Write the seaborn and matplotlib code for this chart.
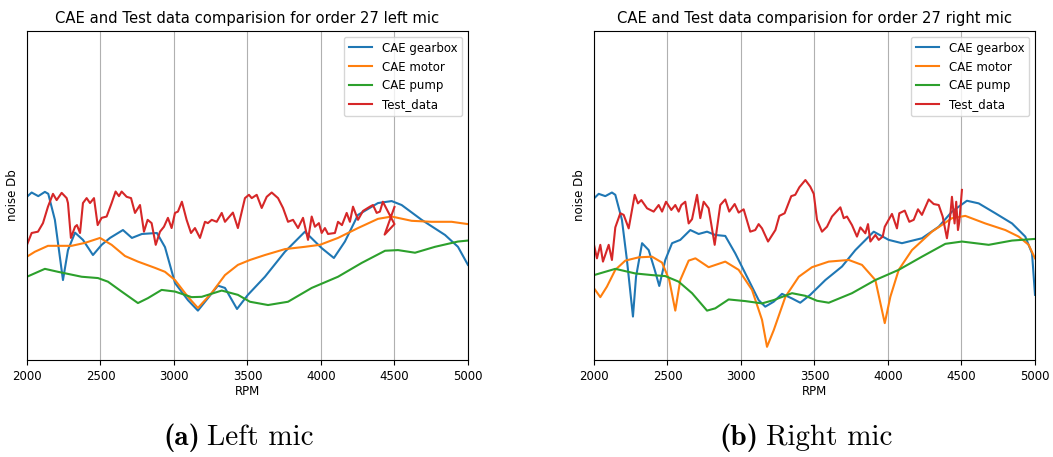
import pandas as pd
import numpy as np
import matplotlib.pyplot as plt
import seaborn as sns

# Order 27 noise levels (RPM, noise in dB, arbitrary offset)

# ---- left mic ----
left_gearbox_rpm = [2000, 2032, 2077, 2122, 2145, 2190, 2245, 2279, 2327, 2381, 2449, 2508, 2565, 2653,
                    2714, 2782, 2884, 2939, 3007, 3095, 3163, 3231, 3299, 3347, 3429, 3503, 3619, 3755,
                    3891, 4005, 4088, 4163, 4252, 4388, 4481, 4549, 4685, 4844, 4932, 5000]
left_gearbox_db = [49.6, 50.9, 49.8, 51.1, 50.5, 42.6, 24.3, 33.4, 38.7, 36.5, 31.9, 35.0, 37.1, 39.5,
                   37.1, 38.3, 38.6, 34.3, 23.4, 18.2, 15.0, 18.8, 22.6, 21.9, 15.5, 19.8, 25.3, 32.9,
                   39.0, 34.0, 31.0, 36.0, 44.1, 47.7, 48.3, 47.1, 42.6, 38.0, 34.4, 28.9]

left_motor_rpm = [2000, 2054, 2143, 2304, 2395, 2497, 2576, 2667, 2755, 2871, 2939, 3007, 3095, 3163,
                  3257, 3347, 3435, 3517, 3619, 3755, 3891, 3993, 4116, 4252, 4388, 4481, 4617, 4753,
                  4889, 5000]
left_motor_db = [31.4, 32.9, 34.7, 34.7, 35.6, 37.1, 35.0, 31.6, 29.9, 28.0, 26.8, 24.3, 19.2, 15.8,
                 20.4, 25.8, 28.9, 30.4, 31.9, 33.7, 34.4, 35.0, 37.1, 40.1, 42.9, 43.6, 42.3, 42.0,
                 42.0, 41.3]

left_pump_rpm = [2000, 2122, 2211, 2372, 2483, 2551, 2644, 2755, 2823, 2916, 3007, 3120, 3189, 3325,
                 3435, 3517, 3640, 3776, 3937, 4116, 4277, 4436, 4524, 4640, 4776, 4932, 5000]
left_pump_db = [25.3, 27.7, 26.8, 25.3, 24.9, 23.8, 20.8, 17.3, 18.8, 21.3, 20.8, 19.1, 19.2, 21.1,
                19.8, 17.7, 16.7, 17.7, 21.9, 25.3, 29.5, 33.2, 33.4, 32.6, 34.4, 36.0, 36.3]

left_test_rpm = [2000, 2032, 2075, 2109, 2143, 2177, 2202, 2236, 2270, 2279, 2299, 2327, 2340, 2361,
                 2381, 2406, 2429, 2456, 2481, 2508, 2542, 2576, 2603, 2626, 2644, 2678, 2708, 2735,
                 2769, 2796, 2821, 2848, 2876, 2905, 2932, 2959, 2984, 3007, 3027, 3054, 3086, 3116,
                 3143, 3177, 3211, 3231, 3257, 3291, 3325, 3347, 3401, 3435, 3483, 3510, 3529, 3563,
                 3597, 3631, 3665, 3708, 3742, 3776, 3810, 3844, 3878, 3912, 3937, 3959, 3986, 4005,
                 4027, 4048, 4095, 4116, 4143, 4175, 4197, 4218, 4252, 4286, 4333, 4354, 4379, 4401,
                 4421, 4500, 4433, 4500]
left_test_db = [35.0, 38.6, 39.0, 41.6, 46.6, 50.5, 48.6, 50.8, 49.2, 47.7, 37.1, 40.5, 41.0, 38.6,
                47.7, 49.2, 47.7, 49.2, 41.0, 43.2, 43.6, 47.7, 51.2, 49.8, 51.2, 49.6, 49.2, 44.7,
                47.1, 39.0, 42.6, 41.6, 35.0, 39.0, 40.5, 43.2, 40.1, 44.7, 45.1, 48.1, 42.6, 38.6,
                40.1, 37.1, 42.0, 41.6, 42.6, 42.0, 44.7, 42.0, 44.8, 40.1, 49.2, 50.2, 49.2, 50.2,
                46.2, 49.6, 50.9, 49.2, 46.2, 42.0, 42.6, 40.1, 43.2, 36.5, 43.6, 40.5, 41.6, 38.6,
                40.1, 38.3, 38.6, 42.0, 41.0, 44.7, 42.0, 46.6, 42.6, 45.3, 46.6, 47.1, 44.7, 45.1,
                48.1, 41.3, 38.1, 46.5]

# ---- right mic ----
right_gearbox_rpm = [2000, 2032, 2077, 2122, 2145, 2190, 2224, 2265, 2286, 2327, 2372, 2413, 2444, 2485,
                     2531, 2587, 2655, 2712, 2769, 2825, 2893, 2961, 3052, 3120, 3165, 3222, 3279, 3347,
                     3403, 3471, 3574, 3687, 3778, 3903, 4005, 4095, 4231, 4345, 4435, 4537, 4617, 4730,
                     4844, 4934, 4980, 5000]
right_gearbox_db = [49.1, 50.5, 49.8, 50.9, 50.2, 42.6, 30.4, 13.2, 25.3, 35.5, 33.4, 27.4, 22.5, 30.4,
                    35.5, 36.5, 39.5, 38.3, 39.0, 38.0, 37.7, 32.4, 24.3, 18.2, 16.2, 17.7, 20.1, 18.7,
                    17.4, 19.8, 24.3, 28.4, 33.4, 39.0, 36.5, 35.5, 37.0, 40.5, 45.1, 48.4, 47.6, 44.6,
                    41.5, 37.5, 32.4, 19.8]

right_motor_rpm = [2000, 2043, 2088, 2145, 2213, 2304, 2395, 2463, 2512, 2553, 2587, 2644, 2690, 2780,
                   2893, 2984, 3075, 3143, 3177, 3223, 3302, 3393, 3483, 3597, 3733, 3823, 3914, 3978,
                   4016, 4073, 4163, 4299, 4435, 4526, 4662, 4798, 4889, 4957, 5000]
right_motor_db = [21.8, 19.1, 22.3, 27.4, 30.2, 31.2, 31.4, 29.6, 24.3, 15.0, 24.3, 30.2, 30.9, 28.2,
                  29.9, 27.4, 21.3, 12.2, 4.0, 9.1, 19.2, 25.3, 28.2, 29.9, 30.4, 28.9, 24.3, 11.2,
                  19.2, 27.4, 33.4, 39.0, 43.1, 43.8, 41.5, 39.5, 37.5, 35.0, 30.9]

right_pump_rpm = [2000, 2145, 2281, 2395, 2485, 2576, 2667, 2769, 2825, 2916, 3029, 3143, 3222, 3347,
                  3438, 3517, 3597, 3755, 3914, 4073, 4231, 4390, 4503, 4685, 4844, 5000]
right_pump_db = [25.8, 27.7, 26.3, 25.8, 25.5, 23.8, 20.3, 15.0, 15.7, 18.4, 17.9, 17.2, 18.2, 20.3,
                 19.5, 18.0, 17.4, 20.3, 24.3, 27.4, 31.4, 35.3, 36.0, 35.0, 36.3, 36.8]

right_test_rpm = [2000, 2020, 2043, 2061, 2100, 2122, 2145, 2179, 2202, 2236, 2277, 2299, 2322, 2361,
                  2406, 2440, 2463, 2490, 2526, 2553, 2576, 2594, 2621, 2644, 2667, 2701, 2723, 2746,
                  2780, 2821, 2859, 2893, 2920, 2957, 2984, 3018, 3063, 3097, 3120, 3143, 3184, 3234,
                  3261, 3297, 3342, 3369, 3397, 3438, 3471, 3495, 3517, 3551, 3585, 3619, 3676, 3699,
                  3721, 3755, 3789, 3812, 3846, 3864, 3880, 3914, 3937, 3964, 3978, 4027, 4061, 4077,
                  4114, 4145, 4175, 4204, 4231, 4277, 4311, 4345, 4372, 4401, 4424, 4435, 4453, 4464,
                  4476, 4485, 4503]
right_test_db = [35.0, 30.9, 35.0, 29.9, 35.0, 30.4, 40.3, 44.6, 44.1, 40.0, 50.2, 47.6, 48.6, 46.1,
                 45.1, 47.1, 45.1, 48.1, 45.6, 47.1, 45.1, 47.1, 48.1, 41.5, 42.8, 50.2, 43.1, 48.1,
                 46.1, 35.0, 47.1, 48.8, 45.1, 47.4, 44.8, 45.8, 39.0, 39.5, 41.3, 40.0, 36.0, 39.5,
                 43.8, 44.6, 49.8, 50.2, 52.5, 54.7, 52.7, 50.5, 42.6, 39.0, 40.5, 43.6, 46.4, 43.1,
                 43.6, 41.0, 37.5, 40.3, 38.5, 41.3, 36.0, 38.0, 36.5, 37.5, 40.5, 44.4, 40.0, 44.6,
                 45.4, 42.0, 42.6, 45.8, 44.1, 48.8, 47.4, 47.1, 43.6, 37.0, 44.1, 49.6, 41.5, 48.1,
                 39.5, 42.0, 51.7]

series_labels = ["CAE gearbox", "CAE motor", "CAE pump", "Test_data"]
colors = sns.color_palette("tab10", 4)

panels = [
    ("left", [(left_gearbox_rpm, left_gearbox_db), (left_motor_rpm, left_motor_db),
              (left_pump_rpm, left_pump_db), (left_test_rpm, left_test_db)]),
    ("right", [(right_gearbox_rpm, right_gearbox_db), (right_motor_rpm, right_motor_db),
               (right_pump_rpm, right_pump_db), (right_test_rpm, right_test_db)]),
]

fig = plt.figure(figsize=(10.53, 4.57), dpi=100)
axes = [fig.add_axes([0.0256, 0.2123, 0.4188, 0.7199]),
        fig.add_axes([0.5641, 0.2123, 0.4188, 0.7199])]

for ax, (side, data) in zip(axes, panels):
    for (rpm, db), label, color in zip(data, series_labels, colors):
        df = pd.DataFrame({"RPM": rpm, "noise": db})
        sns.lineplot(data=df, x="RPM", y="noise", ax=ax, color=color, label=label,
                     sort=False, estimator=None, linewidth=1.5)
    ax.set_xlim(2000, 5000)
    ax.set_ylim(0, 100)
    ax.set_xticks([2000, 2500, 3000, 3500, 4000, 4500, 5000])
    ax.set_yticks([])
    ax.tick_params(axis="x", labelsize=8.5)
    ax.grid(axis="x", color="#b0b0b0", linewidth=0.8)
    ax.set_xlabel("RPM", fontsize=8.5, labelpad=2)
    ax.set_ylabel("noise Db", fontsize=8.5, labelpad=6)
    ax.set_title(f"CAE and Test data comparision for order 27 {side} mic", fontsize=10.6)
    ax.legend(loc="upper right", fontsize=8.5)

# sub-captions
fig.text(0.190, 0.042, "(a)", family="cmb10", fontsize=21, ha="right", va="center")
fig.text(0.197, 0.042, "Left mic", family="cmr10", fontsize=21, ha="left", va="center")
fig.text(0.720, 0.042, "(b)", family="cmb10", fontsize=21, ha="right", va="center")
fig.text(0.727, 0.042, "Right mic", family="cmr10", fontsize=21, ha="left", va="center")

plt.savefig("out.png", dpi=100, facecolor="white")
